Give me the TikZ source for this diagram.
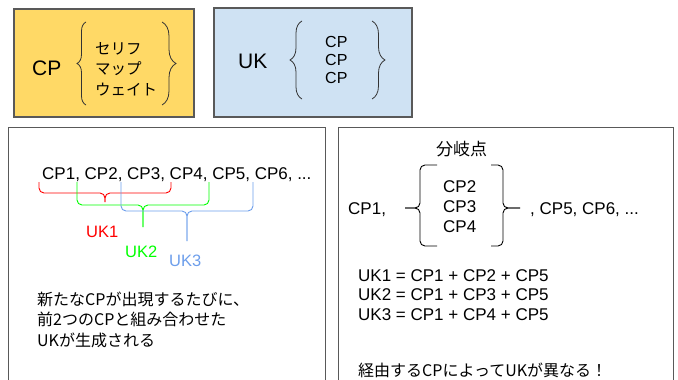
\documentclass[tikz,border=0pt]{standalone}
\usepackage{fontspec}
\setmainfont{Liberation Sans}
\newfontfamily\jpfont{Noto Sans CJK JP}
\usetikzlibrary{decorations.pathreplacing}
\definecolor{cpyellow}{RGB}{255,217,102}
\definecolor{ukblue}{RGB}{207,226,243}
\definecolor{edgegray}{RGB}{89,89,89}
\definecolor{ukred}{RGB}{255,0,0}
\definecolor{ukgreen}{RGB}{0,255,0}
\definecolor{ukcorn}{RGB}{109,158,235}
\begin{document}
\begin{tikzpicture}[x=1pt,y=-1pt,
		panel/.style={draw=edgegray,line width=1.2pt},
		lbl/.style={anchor=base west,inner sep=0pt,font=\fontsize{17}{20}\selectfont},
		jp/.style={anchor=base west,inner sep=0pt,font=\jpfont\fontsize{16}{20}\selectfont},
		curly/.style={draw=black!80,line width=0.8pt,decorate,decoration={brace,amplitude=#1}},
		bracket/.style={line width=0.9pt,rounded corners=5pt}]
	\useasboundingbox (0,0) rectangle (678,380);
	\clip (0,0) rectangle (678,380);
	% upper boxes
	\draw[panel,fill=cpyellow] (14,9) rectangle (194,117);
	\draw[panel,fill=ukblue] (214,8) rectangle (412,117);
	\node[lbl,font=\fontsize{21}{25}\selectfont] (cp) at (32,75) {CP};
	\node[lbl,font=\fontsize{21}{25}\selectfont] (uk) at (238,68) {UK};
	\foreach \t [count=\i] in {セリフ,マップ,ウェイト}
		\node[jp,font=\jpfont\fontsize{15.5}{20}\selectfont] (kana\i) at (95,{54+20.5*(\i-1)}) {\t};
	\foreach \i in {1,2,3}
		\node[lbl,font=\fontsize{16}{18}\selectfont] (member\i) at (325,{47+18*(\i-1)}) {CP};
	\draw[curly=9pt] (86,105) -- (86,22);
	\draw[curly=14pt] (162,22) -- (162,105);
	\draw[curly=12pt] (302,99) -- (302,21);
	\draw[curly=13pt] (372,21) -- (372,99);
	% lower boxes
	\draw[panel,line width=1pt] (8,127) rectangle (325,400);
	\draw[panel,line width=1pt] (338,127) rectangle (673,400);
	% left: overlapping groups
	\node[lbl] (seq) at (42,179) {CP1, CP2, CP3, CP4, CP5, CP6, ...};
	\foreach \c/\a/\b/\h/\e in {ukred/39/171/193/202,ukgreen/77/209/205/227,ukcorn/121/253/211/241}{
		\draw[bracket,\c] (\a,182) |- ({(\a+\b)/2},\h) -- ({(\a+\b)/2},\e);
		\draw[bracket,\c] (\b,182) |- ({(\a+\b)/2},\h) -- ({(\a+\b)/2},\e);
	}
	\node[lbl,font=\fontsize{16.5}{20}\selectfont,text=ukred] (uk1) at (86,237) {UK1};
	\node[lbl,font=\fontsize{16.5}{20}\selectfont,text=ukgreen] (uk2) at (125,257) {UK2};
	\node[lbl,font=\fontsize{16.5}{20}\selectfont,text=ukcorn] (uk3) at (169,266) {UK3};
	\foreach \t [count=\i] in {新たなCPが出現するたびに、,前2つのCPと組み合わせた,UKが生成される}
		\node[jp] (note\i) at (37,{305+20.5*(\i-1)}) {\t};
	% right: branch point
	\node[jp,font=\jpfont\fontsize{17}{20}\selectfont] (branch) at (436,155) {分岐点};
	\node[lbl] (first) at (348,214) {CP1,};
	\node[lbl] (rest) at (530,214) {, CP5, CP6, ...};
	\foreach \i in {2,3,4}
		\node[lbl] (mid\i) at (443,{192+20*(\i-2)}) {CP\i};
	\draw[bracket] (437,165) -| (420,208) -- (405,208);
	\draw[bracket] (437,246) -| (420,208) -- (405,208);
	\draw[bracket] (491,165) -| (503,208) -- (520,208);
	\draw[bracket] (491,246) -| (503,208) -- (520,208);
	\foreach \i in {1,2,3}
		\node[lbl] (sum\i) at (358,{281+19.5*(\i-1)}) {UK\i{} = CP1 + CP\the\numexpr\i+1\relax{} + CP5};
	\node[jp] (moral) at (358,376) {経由するCPによってUKが異なる！};
\end{tikzpicture}
\end{document}
